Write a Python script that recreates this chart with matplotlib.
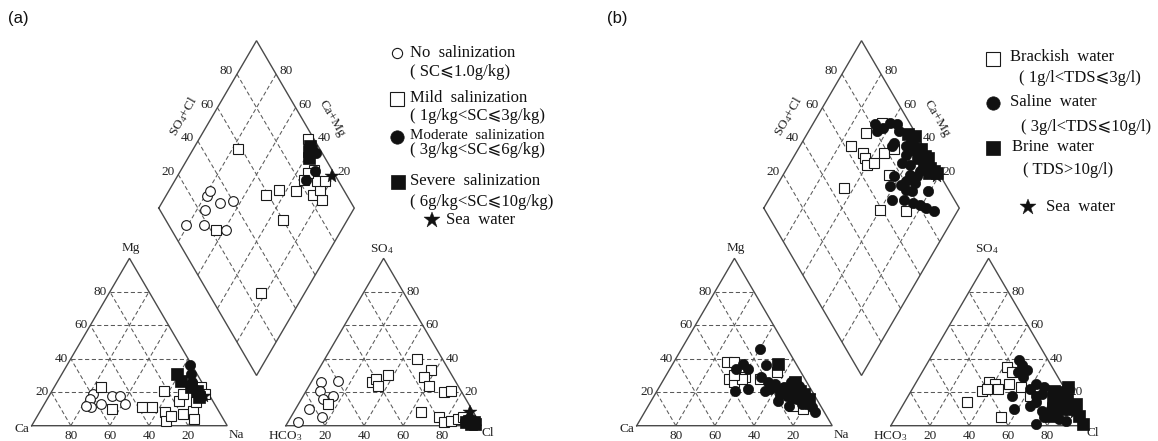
import matplotlib
matplotlib.use("Agg")
import matplotlib.pyplot as plt
from matplotlib.transforms import Affine2D

plt.rcParams['font.family'] = ['Liberation Serif', 'DejaVu Serif', 'DejaVu Sans']
plt.rcParams['mathtext.fontset'] = 'custom'
plt.rcParams['mathtext.rm'] = 'Liberation Serif'
plt.rcParams['mathtext.it'] = 'Liberation Serif:italic'

# ---------------------------------------------------------------------------
# Data (percent of meq/L)
# cation triangle: (Mg, Na+K); anion triangle: (SO4, Cl); diamond: (Na+K, SO4+Cl)
# ---------------------------------------------------------------------------
# (a) soil water grouped by salinization degree
a_none_cation = [(19, 22), (16, 22), (11, 25), (13, 29), (18, 32), (18, 36), (13, 41), (12, 22)]
a_mild_cation = [(23, 24), (10, 36), (11, 51), (11, 56), (21, 57), (8, 64), (3, 67), (6, 68),
                 (15, 68), (19, 68), (7, 74), (9, 78), (4, 81), (14, 77), (23, 75), (19, 79)]
a_moderate_cation = [(36, 63), (31, 66), (26, 69), (22, 72), (20, 75), (17, 78)]
a_severe_cation = [(31, 59), (27, 63), (23, 70), (21, 74), (17, 77)]

a_none_anion = [(2, 5), (10, 7), (5, 16), (26, 5), (21, 7), (16, 11), (18, 15), (27, 13)]
a_mild_anion = [(13, 15), (26, 31), (28, 32), (24, 35), (30, 37), (40, 47), (33, 58), (29, 56),
                (24, 61), (20, 71), (21, 74), (8, 65), (5, 76), (2, 80), (3, 83), (4, 86), (5, 88)]
a_moderate_anion = [(3, 90), (2, 92), (4, 91)]
a_severe_anion = [(2, 91), (1, 94), (3, 92), (1, 96), (2, 95)]

a_none_diamond = [(19, 9), (28, 18), (24, 23), (21, 28), (21, 31), (30, 33), (36, 40), (41, 28)]
a_mild_diamond = [(23, 58), (36, 23), (51, 59), (56, 67), (65, 75), (67, 60), (78, 27), (75, 83),
                  (81, 86), (77, 88), (73, 89), (77, 93), (56, 97), (68, 91), (66, 87), (66, 83)]
a_moderate_diamond = [(64, 97), (67, 84), (69, 91)]
a_severe_diamond = [(59, 96), (61, 95), (62, 92), (60, 94)]

# (b) groundwater grouped by TDS
b_brackish_cation = [(38, 27), (38, 31), (28, 33), (26, 37), (29, 41), (28, 40), (28, 49),
                     (32, 56), (12, 74), (10, 80), (30, 35)]
b_saline_cation = [(46, 40), (37, 36), (34, 40), (34, 34), (36, 48), (29, 49), (21, 40), (22, 46),
                   (21, 55), (26, 54), (15, 65), (25, 58), (23, 64), (21, 70), (19, 76), (18, 68),
                   (16, 74), (13, 80), (8, 87), (11, 84), (13, 78), (21, 63), (22, 57), (26, 66),
                   (24, 71), (12, 72)]
b_brine_cation = [(37, 54), (26, 68), (22, 69), (21, 73), (19, 76), (22, 66), (17, 73), (20, 64),
                  (16, 80)]

b_brackish_anion = [(35, 42), (32, 46), (26, 37), (25, 41), (21, 36), (22, 38), (22, 44), (25, 48),
                    (23, 55), (14, 32), (5, 54), (18, 62)]
b_saline_anion = [(39, 46), (36, 49), (33, 53), (32, 49), (29, 53), (22, 60), (18, 53), (19, 68),
                  (10, 58), (14, 67), (9, 73), (5, 76), (1, 74), (10, 77), (4, 84), (3, 88),
                  (19, 73), (23, 67), (25, 62), (12, 65), (18, 65), (13, 76)]
b_brine_anion = [(21, 73), (20, 78), (16, 78), (16, 82), (10, 87), (10, 82), (6, 93), (1, 98),
                 (14, 76), (23, 79), (13, 88), (6, 79)]

b_brackish_diamond = [(35, 86), (30, 75), (26, 63), (34, 67), (37, 67), (40, 66), (43, 70),
                      (45, 78), (49, 84), (54, 74), (35, 47), (60, 59), (74, 72)]
b_saline_diamond = [(32, 82), (37, 85), (39, 90), (43, 93), (35, 81), (46, 92), (47, 86), (47, 84),
                    (54, 91), (57, 89), (57, 84), (62, 88), (69, 91), (65, 85), (69, 88), (57, 76),
                    (58, 71), (63, 77), (65, 81), (70, 85), (67, 78), (71, 81), (63, 68), (69, 74),
                    (75, 78), (79, 89), (79, 81), (83, 83), (88, 86)]
b_brine_diamond = [(52, 96), (56, 99), (56, 96), (63, 98), (67, 98), (69, 99), (64, 94), (69, 95),
                   (73, 97), (76, 98), (78, 99), (60, 95), (74, 95)]

# standard sea water
SEA_CATION = (18, 79)   # Mg, Na+K
SEA_ANION = (8, 90)     # SO4, Cl

TICKS = [20, 40, 60, 80]

# ---------------------------------------------------------------------------
# Piper geometry: triangle side = 1, gap between triangles = GAP
# ---------------------------------------------------------------------------
GAP = 0.3
SX, SH = 195.5, 167.4          # pixels per unit width / per unit of triangle height
BASE_Y = 425.7
PANEL_X0 = {'a': 31.7, 'b': 636.7}


def cat(mg, na):
    return (na + mg / 2) / 100, mg / 100


def an(so4, cl):
    return 1 + GAP + (cl + so4 / 2) / 100, so4 / 100


def dia(na, sc):
    return 0.5 * (1 + GAP + (sc + na) / 100), 1 + GAP + (sc - na) / 100


FRAME = dict(color='#4a4a4a', lw=1.0, solid_joinstyle='miter')
GRID = dict(color='#5a5a5a', lw=0.75, ls=(0, (4, 2.5)))
TICKFONT = dict(fontsize=9.5, color='#222')
LABFONT = dict(fontsize=9.5, color='#222')

STYLES = {
    'open_circle': dict(marker='o', mfc='white', mec='#1a1a1a', ms=7.0, mew=0.8),
    'open_square': dict(marker='s', mfc='white', mec='#1a1a1a', ms=7.4, mew=0.8),
    'filled_circle': dict(marker='o', mfc='#111', mec='#111', ms=7.4, mew=0.5),
    'filled_square': dict(marker='s', mfc='#111', mec='#111', ms=8.2, mew=0.5),
    'star': dict(marker='*', mfc='#111', mec='#111', ms=10.5, mew=0.3),
}


def seg(ax, tr, pts, **kw):
    xs = [p[0] for p in pts]
    ys = [p[1] for p in pts]
    ax.plot(xs, ys, transform=tr, clip_on=False, **kw)


def lab(ax, tr, xy, text, dx, dy, **kw):
    ax.annotate(text, xy=xy, xycoords=tr, xytext=(dx, dy), textcoords='offset pixels', **kw)


def draw_frame(ax, x0):
    tr = Affine2D().scale(SX, -SH).translate(x0, BASE_Y) + ax.transData
    # grids
    for p in TICKS:
        seg(ax, tr, [cat(p, 0), cat(p, 100 - p)], **GRID)
        seg(ax, tr, [cat(0, p), cat(100 - p, p)], **GRID)
        seg(ax, tr, [cat(0, 100 - p), cat(100 - p, 0)], **GRID)
        seg(ax, tr, [an(p, 0), an(p, 100 - p)], **GRID)
        seg(ax, tr, [an(0, p), an(100 - p, p)], **GRID)
        seg(ax, tr, [an(0, 100 - p), an(100 - p, 0)], **GRID)
        seg(ax, tr, [dia(p, 0), dia(p, 100)], **GRID)
        seg(ax, tr, [dia(0, p), dia(100, p)], **GRID)
    # outlines
    seg(ax, tr, [cat(0, 0), cat(0, 100), cat(100, 0), cat(0, 0)], **FRAME)
    seg(ax, tr, [an(0, 0), an(0, 100), an(100, 0), an(0, 0)], **FRAME)
    seg(ax, tr, [dia(0, 0), dia(0, 100), dia(100, 100), dia(100, 0), dia(0, 0)], **FRAME)

    # tick labels
    for p in TICKS:
        s = str(p)
        lab(ax, tr, cat(p, 0), s, -3, 0, ha='right', va='center', **TICKFONT)
        lab(ax, tr, cat(0, 100 - p), s, 0, -10, ha='center', va='center', **TICKFONT)
        lab(ax, tr, an(p, 100 - p), s, 3, 0, ha='left', va='center', **TICKFONT)
        lab(ax, tr, an(0, p), s, 0, -10, ha='center', va='center', **TICKFONT)
        lab(ax, tr, dia(0, p), s, -4, 3, ha='right', va='center', **TICKFONT)
        lab(ax, tr, dia(100 - p, 100), s, 3, 3, ha='left', va='center', **TICKFONT)

    # vertex and axis names
    lab(ax, tr, cat(100, 0), 'Mg', 1, 10, ha='center', va='center', **LABFONT)
    lab(ax, tr, cat(0, 0), 'Ca', -10, -3, ha='center', va='center', **LABFONT)
    lab(ax, tr, cat(0, 100), 'Na', 9, -9, ha='center', va='center', **LABFONT)
    lab(ax, tr, an(100, 0), 'SO$_4$', -2, 9, ha='center', va='center', **LABFONT)
    lab(ax, tr, an(0, 0), 'HCO$_3$', -1, -10, ha='center', va='center', **LABFONT)
    lab(ax, tr, an(0, 100), 'Cl', 6, -7, ha='center', va='center', **LABFONT)
    lab(ax, tr, dia(0, 50), 'SO$_4$+Cl', -24, 8, ha='center', va='center', rotation=60,
        rotation_mode='anchor', **LABFONT)
    lab(ax, tr, dia(50, 100), 'Ca+Mg', 26, 6, ha='center', va='center', rotation=-60,
        rotation_mode='anchor', **LABFONT)
    return tr


def plot_group(ax, tr, cation, anion, diamond, style, z):
    kw = dict(STYLES[style], ls='none', transform=tr, clip_on=False, zorder=z)
    for pts, fn in ((cation, cat), (anion, an), (diamond, dia)):
        xy = [fn(*p) for p in pts]
        ax.plot([q[0] for q in xy], [q[1] for q in xy], **kw)


def plot_sea(ax, tr, z):
    kw = dict(STYLES['star'], ls='none', transform=tr, clip_on=False, zorder=z)
    mg, na = SEA_CATION
    so4, cl = SEA_ANION
    xy = [cat(mg, na), an(so4, cl), dia(na, so4 + cl)]
    ax.plot([q[0] for q in xy], [q[1] for q in xy], **kw)


fig = plt.figure(figsize=(11.58, 4.41), dpi=100)
ax = fig.add_axes([0, 0, 1, 1])
ax.set_xlim(0, 1158)
ax.set_ylim(441, 0)
ax.axis('off')

# ---------------- panel (a) ----------------
tra = draw_frame(ax, PANEL_X0['a'])
plot_group(ax, tra, a_none_cation, a_none_anion, a_none_diamond, 'open_circle', 3)
plot_group(ax, tra, a_mild_cation, a_mild_anion, a_mild_diamond, 'open_square', 3)
plot_group(ax, tra, a_moderate_cation, a_moderate_anion, a_moderate_diamond, 'filled_circle', 4)
plot_group(ax, tra, a_severe_cation, a_severe_anion, a_severe_diamond, 'filled_square', 4)
plot_sea(ax, tra, 6)

# ---------------- panel (b) ----------------
trb = draw_frame(ax, PANEL_X0['b'])
plot_sea(ax, trb, 2.5)
plot_group(ax, trb, b_brackish_cation, b_brackish_anion, b_brackish_diamond, 'open_square', 3)
plot_group(ax, trb, b_saline_cation, b_saline_anion, b_saline_diamond, 'filled_circle', 4)
plot_group(ax, trb, b_brine_cation, b_brine_anion, b_brine_diamond, 'filled_square', 5)

# ---------------- panel letters ----------------
for x, t in ((8, '(a)'), (607, '(b)')):
    ax.text(x, 18, t, fontsize=12, family=['Liberation Sans', 'DejaVu Sans'],
            ha='left', va='center', color='#111')

# ---------------- legends ----------------
LEG = dict(fontsize=12, ha='left', va='center', color='#111',
           family=['Liberation Serif', 'DejaVu Serif', 'DejaVu Sans'])


def leg_marker(x, y, style, scale=1.25):
    st = dict(STYLES[style])
    st['ms'] = st['ms'] * scale
    ax.plot([x], [y], ls='none', clip_on=False, **st)


leg_marker(396.7, 53.3, 'open_circle', 1.05)
ax.text(410, 53, 'No  salinization', **LEG)
ax.text(410, 72, '( SC\u2a7d1.0g/kg)', **LEG)
leg_marker(396.7, 98.5, 'open_square', 1.35)
ax.text(410, 98, 'Mild  salinization', **LEG)
ax.text(410, 116, '( 1g/kg<SC\u2a7d3g/kg)', **LEG)
leg_marker(396.7, 136.7, 'filled_circle', 1.3)
ax.text(410, 135.5, 'Moderate  salinization', **dict(LEG, fontsize=10.8))
ax.text(410, 150, '( 3g/kg<SC\u2a7d6g/kg)', **LEG)
leg_marker(398.3, 181.7, 'filled_square', 1.3)
ax.text(410, 181, 'Severe  salinization', **LEG)
ax.text(410, 202, '( 6g/kg<SC\u2a7d10g/kg)', **LEG)
leg_marker(431.7, 220, 'star', 1.15)
ax.text(446, 220, 'Sea  water', **LEG)

leg_marker(993.3, 59.3, 'open_square', 1.3)
ax.text(1010, 57, 'Brackish  water', **LEG)
ax.text(1019, 78, '( 1g/l<TDS\u2a7d3g/l)', **LEG)
leg_marker(992.7, 102.7, 'filled_circle', 1.3)
ax.text(1010, 102, 'Saline  water', **LEG)
ax.text(1021, 127, '( 3g/l<TDS\u2a7d10g/l)', **LEG)
leg_marker(993.3, 148.3, 'filled_square', 1.3)
ax.text(1011.7, 147, 'Brine  water', **LEG)
ax.text(1023, 170, '( TDS>10g/l)', **LEG)
leg_marker(1028.3, 206.7, 'star', 1.15)
ax.text(1046, 206.7, 'Sea  water', **LEG)

fig.savefig('out.png', dpi=100)
